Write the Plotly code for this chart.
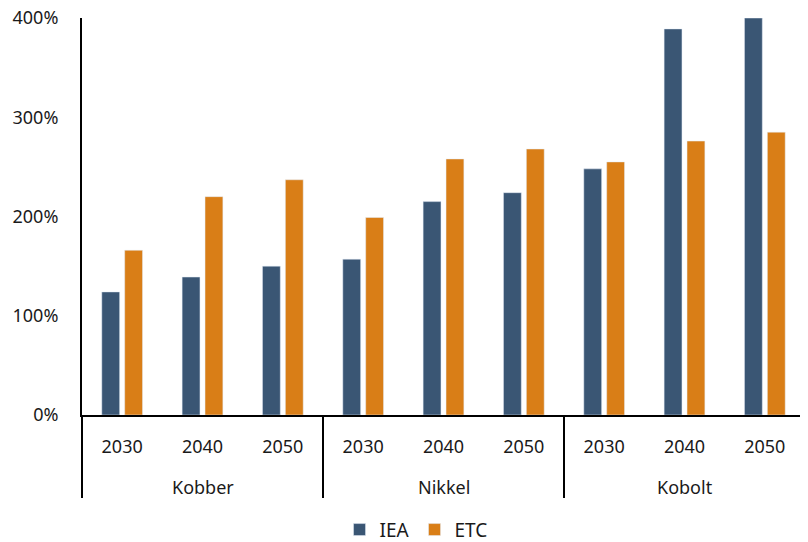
import plotly.graph_objects as go

metals = ["Kobber", "Nikkel", "Kobolt"]
years = ["2030", "2040", "2050"]
iea = [124, 139, 150, 157, 215, 224, 248, 389, 400]
etc = [166, 220, 237, 199, 258, 268, 255, 276, 285]

cats = [f"{m} {y}" for m in metals for y in years]
tick_text = [y for _ in metals for y in years]

fig = go.Figure()
fig.add_trace(go.Bar(x=cats, y=iea, name="IEA", marker_color="#3A5674"))
fig.add_trace(go.Bar(x=cats, y=etc, name="ETC", marker_color="#D97E17"))

fnt = dict(family="Noto Sans", size=18, color="#1a1a1a")
H, T, B = 534, 10, 127
plot_h = H - T - B

# group labels and dividers under the category axis
n = len(metals)
for i, m in enumerate(metals):
    fig.add_annotation(x=cats[i * len(years) + len(years) // 2], xref="x",
                       y=-72 / plot_h, yref="paper", yanchor="middle",
                       text=m, showarrow=False, font=fnt)
for k in range(n + 1):
    fig.add_shape(type="line", xref="paper", yref="paper",
                  x0=k / n, x1=k / n, y0=0, y1=-83 / plot_h,
                  line=dict(color="black", width=2))

fig.update_layout(
    width=800, height=H,
    margin=dict(l=74, r=3, t=T, b=B),
    plot_bgcolor="white", paper_bgcolor="white",
    barmode="group", bargap=0.43, bargroupgap=0.22,
    font=fnt,
    showlegend=True,
    legend=dict(orientation="h", xref="paper", x=0.462, xanchor="center",
                yref="container", y=0.023, yanchor="middle",
                font=dict(family="Noto Sans", size=19), itemwidth=30),
    xaxis=dict(type="category", tickvals=cats, ticktext=tick_text,
               showline=True, linecolor="black", linewidth=2,
               ticks="", tickfont=fnt, automargin=False, ticklabelstandoff=14),
    yaxis=dict(range=[0, 400], dtick=100, ticksuffix="%", showgrid=False,
               showline=True, linecolor="black", linewidth=2, zeroline=False,
               ticklabelstandoff=18, tickfont=fnt, automargin=False,
               ticklabeloverflow="allow"),
)
fig.write_html("out.html")
